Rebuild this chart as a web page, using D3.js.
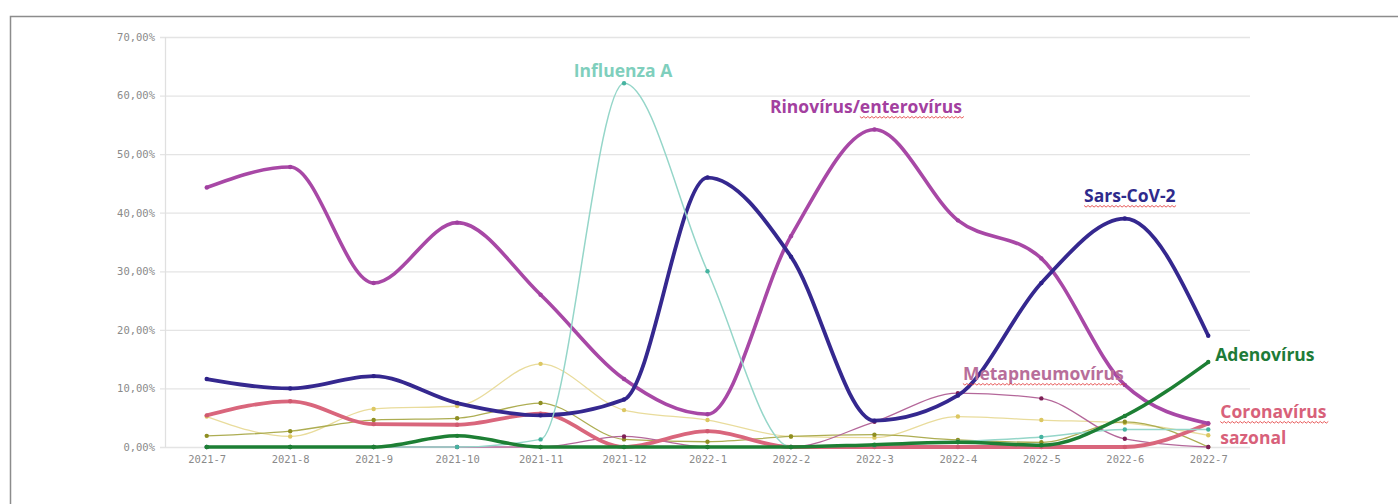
<!DOCTYPE html>
<html>
<head>
<meta charset="utf-8">
<script src="https://cdn.jsdelivr.net/npm/d3@7"></script>
<style>
  body { margin: 0; background: #fff; }
  svg { display: block; }
  .tick text { font-family: "DejaVu Sans Mono", monospace; font-size: 10.5px; fill: #8a8a8a; }
  .label { font-family: "Open Sans", sans-serif; font-weight: bold; font-size: 17.5px; }
</style>
</head>
<body>
<svg></svg>
<script>
const months = ["2021-7","2021-8","2021-9","2021-10","2021-11","2021-12","2022-1","2022-2","2022-3","2022-4","2022-5","2022-6","2022-7"]
const yTicks = [0,10,20,30,40,50,60,70]

const rinovirus   = [44.3,47.8,28.0,38.3,26.0,11.6,5.6,36.0,54.2,38.7,32.2,10.6,4.0]
const sarsCov2    = [11.6,10.0,12.1,7.5,5.4,8.1,46.0,32.5,4.5,8.8,28.0,39.0,19.0]
const influenzaA  = [0,0,0,0,1.3,62.1,30.0,0,0.3,0.9,1.7,3.0,3.0]
const adenovirus  = [0,0,0,1.9,0,0,0,0,0.4,0.8,0.3,5.3,14.5]
const coronavirus = [5.4,7.8,3.9,3.8,5.7,0,2.7,0,0,0,0,0,4.0]
const metapneumo  = [0,0,0,0,0,1.8,0,0,4.3,9.2,8.3,1.4,0]
const otherYellow = [5.2,1.8,6.5,7.0,14.2,6.3,4.6,1.8,1.6,5.2,4.6,4.1,2.0]
const otherOlive  = [1.9,2.7,4.6,4.9,7.5,1.3,0.9,1.8,2.1,1.2,0.8,4.3,0]

const series = [
  {name:"yellow", values: otherYellow, color:"#e9dc9c", dot:"#dcc761", width:1.3},
  {name:"olive", values: otherOlive, color:"#adad52", dot:"#8e8e22", width:1.3},
  {name:"meta", values: metapneumo, color:"#b4679a", dot:"#7e1f56", width:1.3},
  {name:"corona", values: coronavirus, color:"#d9667c", dot:"#d05a70", width:3.8},
  {name:"rino", values: rinovirus, color:"#a848a6", dot:"#a040a0", width:3.6},
  {name:"sars", values: sarsCov2, color:"#35288f", dot:"#2d2088", width:3.8},
  {name:"influenza", values: influenzaA, color:"#95d6c9", dot:"#45b3a0", width:1.5},
  {name:"adeno", values: adenovirus, color:"#1d7f34", dot:"#1d7f34", width:3.5}
]

const svg = d3.select("svg")
    .attr("width",1398)
    .attr("height",504)

// outer frame
svg.append("path")
    .attr("d","M10.5,504 V16.5 H1398")
    .attr("fill","none")
    .attr("stroke","#8c8c8c")
    .attr("stroke-width",1.5)

const x = d3.scalePoint()
    .domain(months)
    .range([165,1250])
    .padding(0.5)

const y = d3.scaleLinear()
    .domain([0,70])
    .range([447,37])

const fmt = d => d3.format(".2f")(d).replace(".",",") + "%"

const yAxis = svg.append("g")
    .attr("transform","translate(165,0)")
    .call(d3.axisLeft(y).tickValues(yTicks).tickFormat(fmt).tickSize(-1085).tickPadding(10))
yAxis.select(".domain").remove()
yAxis.selectAll(".tick line")
    .attr("x1",-5)
    .attr("stroke","#e4e4e4")
    .attr("stroke-width",1.3)

svg.append("line")
    .attr("x1",165.5).attr("x2",165.5)
    .attr("y1",y(70)).attr("y2",y(0))
    .attr("stroke","#e0e0e0")
    .attr("stroke-width",1.3)

const xAxis = svg.append("g")
    .attr("transform","translate(0,447)")
    .call(d3.axisBottom(x).tickSize(0).tickPadding(9))
xAxis.select(".domain").remove()

const line = d3.line()
    .x((d,i) => x(months[i]))
    .y(d => y(d))
    .curve(d3.curveMonotoneX)

const groups = svg.selectAll("g.series")
    .data(series)
    .enter()
    .append("g")
    .attr("class","series")

groups.append("path")
    .attr("d", d => line(d.values))
    .attr("fill","none")
    .attr("stroke", d => d.color)
    .attr("stroke-width", d => d.width)
    .attr("stroke-linejoin","round")

groups.selectAll("circle")
    .data(d => d.values.map(v => ({v:v, s:d})))
    .enter()
    .append("circle")
    .attr("cx",(d,i) => x(months[i]))
    .attr("cy",d => y(d.v))
    .attr("r",2.2)
    .attr("fill",d => d.s.dot)

// annotations (wavy = index of first underlined character, -1 for none)
const labels = [
  {text:"Influenza A", color:"#7fcfbd", x:x("2021-12")-1, y:77, anchor:"middle", wavy:-1},
  {text:"Rinovírus/enterovírus", color:"#a3409f", x:x("2022-2")-21, y:113, anchor:"start", wavy:10},
  {text:"Sars-CoV-2", color:"#2f2a8c", x:x("2022-6")+5, y:202, anchor:"middle", wavy:0},
  {text:"Metapneumovírus", color:"#b86e9a", x:x("2022-4")+5, y:380, anchor:"start", wavy:0},
  {text:"Adenovírus", color:"#1e7b38", x:x("2022-7")+7, y:361, anchor:"start", wavy:-1},
  {text:"Coronavírus", color:"#d8617a", x:x("2022-7")+12, y:418, anchor:"start", wavy:0},
  {text:"sazonal", color:"#d8617a", x:x("2022-7")+12, y:444, anchor:"start", wavy:-1}
]

labels.forEach(l => {
  const t = svg.append("text")
      .attr("class","label")
      .attr("x",l.x)
      .attr("y",l.y)
      .attr("text-anchor",l.anchor)
      .attr("fill",l.color)
      .text(l.text)
  if(l.wavy >= 0){
    const node = t.node()
    const b = node.getBBox()
    const start = b.x + (l.wavy > 0 ? node.getSubStringLength(0,l.wavy) : 0)
    const end = b.x + b.width
    const yy = l.y + 3.5
    let d = `M${start},${yy}`
    for(let xx = start, k = 0; xx < end; xx += 2, k++){
      d += ` L${xx+2},${yy + (k % 2 ? 0 : 1.6)}`
    }
    svg.append("path")
        .attr("d",d)
        .attr("fill","none")
        .attr("stroke","#e03030")
        .attr("stroke-width",0.8)
  }
})
</script>
</body>
</html>
